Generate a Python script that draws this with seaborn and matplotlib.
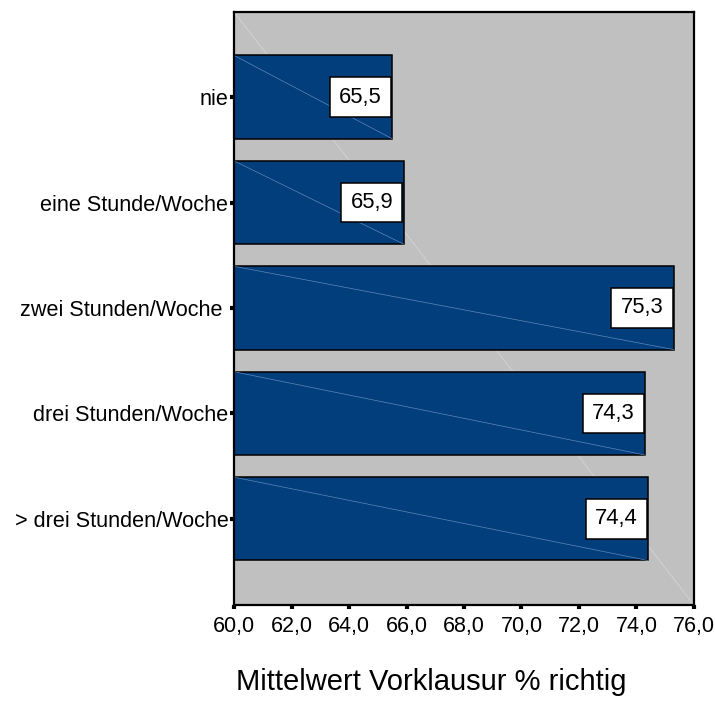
import matplotlib
matplotlib.use("Agg")
import matplotlib.pyplot as plt
import seaborn as sns
import pandas as pd

categories = ["nie", "eine Stunde/Woche", "zwei Stunden/Woche ", "drei Stunden/Woche", "> drei Stunden/Woche"]
means = [65.5, 65.9, 75.3, 74.3, 74.4]
xticks = [60.0, 62.0, 64.0, 66.0, 68.0, 70.0, 72.0, 74.0, 76.0]

df = pd.DataFrame({"Gruppe": categories, "Mittelwert": means})

sns.set_theme(style="white")
plt.rcParams["font.family"] = ["Liberation Sans", "DejaVu Sans"]
plt.rcParams["text.color"] = "black"
plt.rcParams["xtick.color"] = "black"
plt.rcParams["ytick.color"] = "black"
plt.rcParams["axes.labelcolor"] = "black"

fig = plt.figure(figsize=(7.15, 7.08), dpi=100)
ax = fig.add_axes([0.3273, 0.1455, 0.6433, 0.8376])
ax.set_facecolor("#C0C0C0")

sns.barplot(data=df, x="Mittelwert", y="Gruppe", order=categories, orient="h",
            color="#023D7C", saturation=1, width=0.79, edgecolor="black",
            linewidth=1.1, ax=ax, zorder=2)

ax.set_xlim(60, 76)
ax.set_ylim(4.817, -0.807)

# faint seam across the plot background
ax.plot([0, 1], [1, 0], transform=ax.transAxes, color="#D4D4D4", lw=0.6, zorder=1)

# faint seams across each bar, plus value boxes
for i, v in enumerate(means):
    ax.plot([60, v], [i - 0.395, i + 0.395], color="#5F86B8", lw=0.5, zorder=3)
    ax.annotate(f"{v:.1f}".replace(".", ","), xy=(v, i), xytext=(-7.5, 0),
                textcoords="offset points", ha="right", va="center",
                fontsize=15.8, color="black", zorder=5,
                bbox=dict(boxstyle="square,pad=0.42", fc="white", ec="black", lw=1.1))

ax.set_xticks(xticks)
ax.set_xticklabels([f"{t:.1f}".replace(".", ",") for t in xticks], fontsize=15.5)
ax.tick_params(axis="y", labelsize=15.6)
ax.tick_params(axis="both", direction="out", length=3, width=3, color="black",
               labelcolor="black", bottom=True, left=True)
ax.tick_params(axis="x", pad=5)
ax.tick_params(axis="y", pad=1)

ax.set_ylabel("")
ax.set_xlabel("Mittelwert Vorklausur % richtig", fontsize=21, color="black")
ax.xaxis.set_label_coords(0.428, -0.107)

for s in ax.spines.values():
    s.set_visible(True)
    s.set_color("black")
    s.set_linewidth(1.6)
    s.set_zorder(6)

fig.savefig("out.png", dpi=100, facecolor="white")
